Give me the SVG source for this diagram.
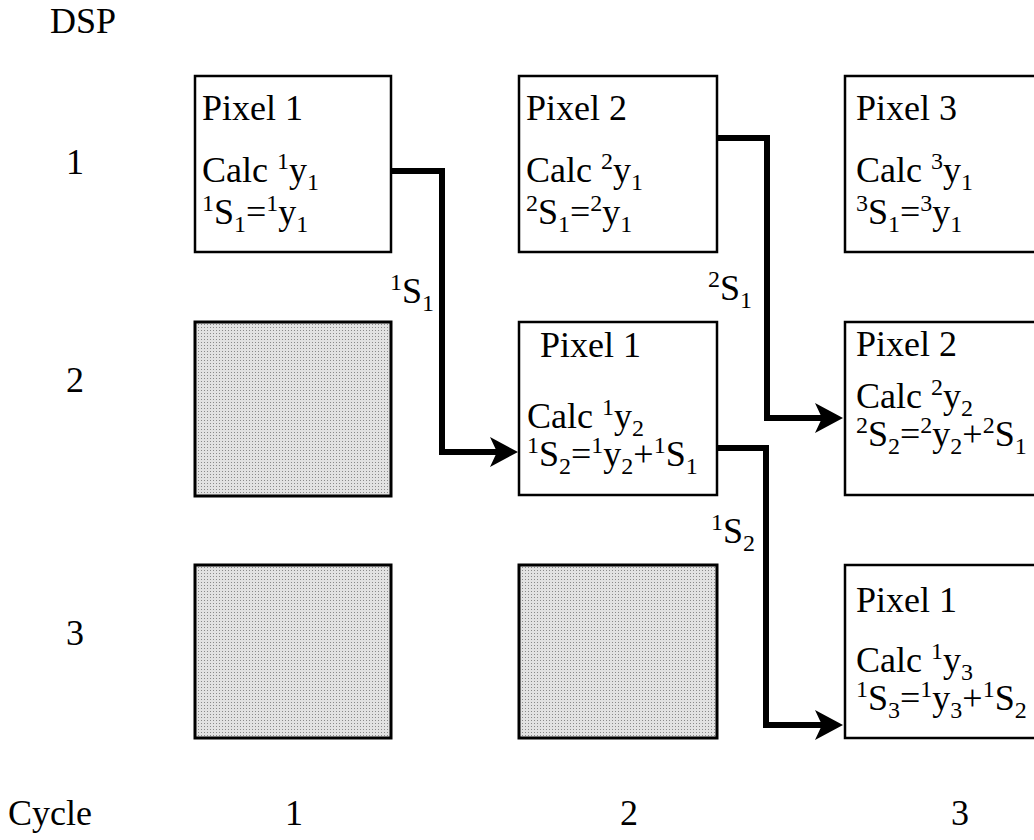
<svg xmlns="http://www.w3.org/2000/svg" width="1034" height="840" viewBox="0 0 1034 840" font-family="Liberation Serif, Times New Roman, DejaVu Serif, serif">
<style>
text{font-family:'Liberation Serif','Times New Roman','DejaVu Serif',serif;font-size:36px;fill:#000}
.s{font-size:24px}
.box{fill:#fff;stroke:#000;stroke-width:2.5}
.gray{fill:url(#dots);stroke:#000;stroke-width:3}
.conn{fill:none;stroke:#000;stroke-width:6;stroke-linejoin:miter}
</style>
<defs>
<pattern id="dots" width="3" height="3" patternUnits="userSpaceOnUse">
<rect width="3" height="3" fill="#e2e2e2"/>
<rect width="1" height="1" fill="#8a8a8a"/>
</pattern>
<marker id="ah" markerUnits="userSpaceOnUse" markerWidth="30" markerHeight="32" refX="10" refY="15" orient="auto">
<path d="M0,0 L28,15 L0,30 L7,15 Z" fill="#000"/>
</marker>
</defs>
<rect width="1034" height="840" fill="#fff"/>
<g id="axis-labels">
<text x="50" y="33">DSP</text>
<text x="75" y="174" text-anchor="middle">1</text>
<text x="75" y="392" text-anchor="middle">2</text>
<text x="75" y="645" text-anchor="middle">3</text>
<text x="8" y="825">Cycle</text>
<text x="294" y="825" text-anchor="middle">1</text>
<text x="629" y="825" text-anchor="middle">2</text>
<text x="960" y="825" text-anchor="middle">3</text>
</g>

<g id="n-c1r1">
<rect class="box" x="195" y="76" width="196" height="176"/>
<text x="202" y="120">Pixel 1</text>
<text x="202" y="182">Calc <tspan class="s" dy="-13">1</tspan><tspan dy="13">y</tspan><tspan class="s" dy="8">1</tspan></text>
<text x="202" y="224"><tspan class="s" dy="-13">1</tspan><tspan dy="13">S</tspan><tspan class="s" dy="8">1</tspan><tspan dy="-8">=</tspan><tspan class="s" dy="-13">1</tspan><tspan dy="13">y</tspan><tspan class="s" dy="8">1</tspan></text>
</g>
<g id="n-c2r1">
<rect class="box" x="519" y="76" width="198" height="176"/>
<text x="526" y="120">Pixel 2</text>
<text x="526" y="182">Calc <tspan class="s" dy="-13">2</tspan><tspan dy="13">y</tspan><tspan class="s" dy="8">1</tspan></text>
<text x="526" y="224"><tspan class="s" dy="-13">2</tspan><tspan dy="13">S</tspan><tspan class="s" dy="8">1</tspan><tspan dy="-8">=</tspan><tspan class="s" dy="-13">2</tspan><tspan dy="13">y</tspan><tspan class="s" dy="8">1</tspan></text>
</g>
<g id="n-c3r1">
<rect class="box" x="845" y="76" width="200" height="176"/>
<text x="856" y="120">Pixel 3</text>
<text x="856" y="182">Calc <tspan class="s" dy="-13">3</tspan><tspan dy="13">y</tspan><tspan class="s" dy="8">1</tspan></text>
<text x="856" y="224"><tspan class="s" dy="-13">3</tspan><tspan dy="13">S</tspan><tspan class="s" dy="8">1</tspan><tspan dy="-8">=</tspan><tspan class="s" dy="-13">3</tspan><tspan dy="13">y</tspan><tspan class="s" dy="8">1</tspan></text>
</g>
<g id="n-c1r2"><rect class="gray" x="195" y="322" width="196" height="174"/></g>
<g id="n-c2r2">
<rect class="box" x="519" y="322" width="198" height="173"/>
<text x="540" y="357">Pixel 1</text>
<text x="527" y="428">Calc <tspan class="s" dy="-13">1</tspan><tspan dy="13">y</tspan><tspan class="s" dy="8">2</tspan></text>
<text x="527" y="466"><tspan class="s" dy="-13">1</tspan><tspan dy="13">S</tspan><tspan class="s" dy="8">2</tspan><tspan dy="-8">=</tspan><tspan class="s" dy="-13">1</tspan><tspan dy="13">y</tspan><tspan class="s" dy="8">2</tspan><tspan dy="-8">+</tspan><tspan class="s" dy="-13">1</tspan><tspan dy="13">S</tspan><tspan class="s" dy="8">1</tspan></text>
</g>
<g id="n-c3r2">
<rect class="box" x="845" y="322" width="200" height="173"/>
<text x="856" y="356">Pixel 2</text>
<text x="856" y="408">Calc <tspan class="s" dy="-13">2</tspan><tspan dy="13">y</tspan><tspan class="s" dy="8">2</tspan></text>
<text x="856" y="446"><tspan class="s" dy="-13">2</tspan><tspan dy="13">S</tspan><tspan class="s" dy="8">2</tspan><tspan dy="-8">=</tspan><tspan class="s" dy="-13">2</tspan><tspan dy="13">y</tspan><tspan class="s" dy="8">2</tspan><tspan dy="-8">+</tspan><tspan class="s" dy="-13">2</tspan><tspan dy="13">S</tspan><tspan class="s" dy="8">1</tspan></text>
</g>
<g id="n-c1r3"><rect class="gray" x="195" y="565" width="196" height="173"/></g>
<g id="n-c2r3"><rect class="gray" x="519" y="565" width="198" height="173"/></g>
<g id="n-c3r3">
<rect class="box" x="845" y="565" width="200" height="173"/>
<text x="856" y="612">Pixel 1</text>
<text x="856" y="672">Calc <tspan class="s" dy="-13">1</tspan><tspan dy="13">y</tspan><tspan class="s" dy="8">3</tspan></text>
<text x="856" y="710"><tspan class="s" dy="-13">1</tspan><tspan dy="13">S</tspan><tspan class="s" dy="8">3</tspan><tspan dy="-8">=</tspan><tspan class="s" dy="-13">1</tspan><tspan dy="13">y</tspan><tspan class="s" dy="8">3</tspan><tspan dy="-8">+</tspan><tspan class="s" dy="-13">1</tspan><tspan dy="13">S</tspan><tspan class="s" dy="8">2</tspan></text>
</g>

<g id="connectors">
<path class="conn" d="M391,171 H442 V452 H500" marker-end="url(#ah)"/>
<path class="conn" d="M717,138 H767 V418 H825" marker-end="url(#ah)"/>
<path class="conn" d="M717,448 H766 V725 H825" marker-end="url(#ah)"/>
<text x="390" y="303"><tspan class="s" dy="-13">1</tspan><tspan dy="13">S</tspan><tspan class="s" dy="8">1</tspan></text>
<text x="708" y="300"><tspan class="s" dy="-13">2</tspan><tspan dy="13">S</tspan><tspan class="s" dy="8">1</tspan></text>
<text x="711" y="543"><tspan class="s" dy="-13">1</tspan><tspan dy="13">S</tspan><tspan class="s" dy="8">2</tspan></text>
</g>
</svg>
